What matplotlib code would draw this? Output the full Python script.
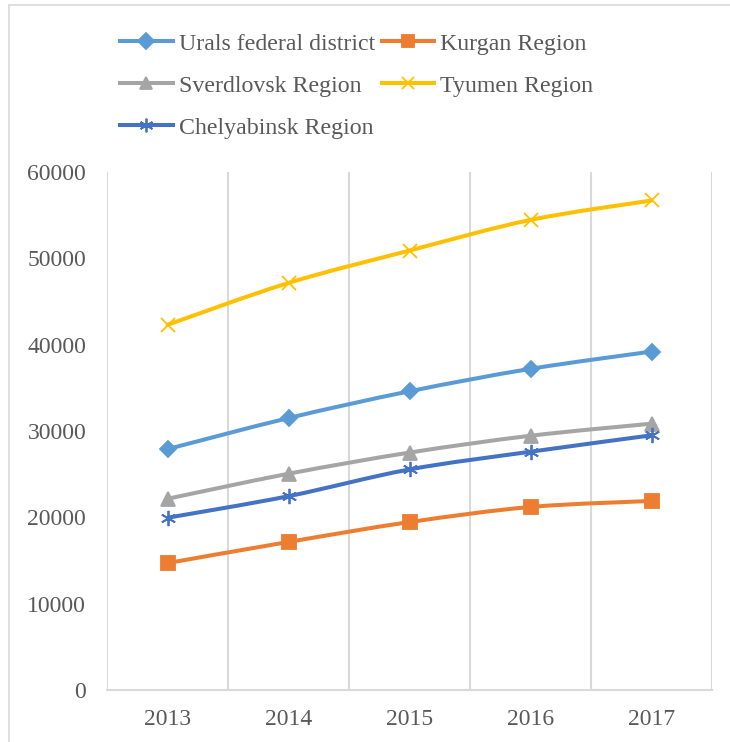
import numpy as np
import matplotlib.pyplot as plt
from matplotlib.path import Path
from matplotlib.patches import PathPatch, Rectangle
from matplotlib.lines import Line2D

years = ["2013", "2014", "2015", "2016", "2017"]
urals = [27900, 31500, 34600, 37200, 39200]
kurgan = [14700, 17150, 19450, 21200, 21900]
sverdlovsk = [22150, 25050, 27500, 29450, 30850]
tyumen = [42300, 47150, 50900, 54450, 56700]
chelyabinsk = [19950, 22450, 25550, 27600, 29500]

plt.rcParams['font.family'] = ['Liberation Serif', 'DejaVu Serif']

fig = plt.figure(figsize=(7.3, 7.42), dpi=100)
ax = fig.add_axes([107/730, 1-690/742, (712-107)/730, (690-172)/742])

# outer chart border
fig.patches.append(Rectangle((9/730, -0.1), 1.2, 1.1 - 5/742, transform=fig.transFigure,
                             fill=False, edgecolor="#d9d9d9", linewidth=1.2))


def smooth_path(x, y):
    # Excel-style smoothed line (Catmull-Rom as cubic Bezier)
    pts = np.column_stack([x, y]).astype(float)
    verts = [pts[0]]
    codes = [Path.MOVETO]
    n = len(pts)
    for i in range(n - 1):
        p0 = pts[i - 1] if i > 0 else pts[i]
        p1 = pts[i]
        p2 = pts[i + 1]
        p3 = pts[i + 2] if i + 2 < n else pts[i + 1]
        c1 = p1 + (p2 - p0) / 6
        c2 = p2 - (p3 - p1) / 6
        verts += [c1, c2, p2]
        codes += [Path.CURVE4] * 3
    return Path(verts, codes)


series = [
    ("Urals federal district", urals, "#5B9BD5", "D", 8.5),
    ("Kurgan Region", kurgan, "#ED7D31", "s", 9.5),
    ("Sverdlovsk Region", sverdlovsk, "#A5A5A5", "^", 10),
    ("Tyumen Region", tyumen, "#FFC000", "x", 10),
    ("Chelyabinsk Region", chelyabinsk, "#4472C4", (6, 2, 0), 11),
]

lw = 2.9
x = np.arange(len(years))
handles = {}
for name, vals, col, mk, ms in series:
    ax.add_patch(PathPatch(smooth_path(x, vals), facecolor="none", edgecolor=col,
                           linewidth=lw, capstyle="round", zorder=3))
    ax.plot(x, vals, linestyle="none", marker=mk, markersize=ms, color=col,
            markeredgewidth=1.3, zorder=4)
    handles[name] = Line2D([], [], color=col, linewidth=lw, marker=mk,
                           markersize=ms * 0.9, markeredgewidth=1.3)

ax.set_xlim(-0.5, len(years) - 0.5)
ax.set_ylim(0, 60000)
ax.set_yticks(np.arange(0, 60001, 10000))
ax.set_xticks(x)
ax.set_xticklabels(years)
ax.set_xticks(np.arange(-0.5, len(years), 1), minor=True)
ax.grid(True, which="minor", axis="x", color="#d9d9d9", linewidth=1.5)
ax.tick_params(axis="both", which="both", length=0, labelsize=17, labelcolor="#595959")
ax.tick_params(axis="x", pad=14)
ax.tick_params(axis="y", pad=15)
for s in ["top", "right", "left"]:
    ax.spines[s].set_visible(False)
ax.spines["bottom"].set_color("#d9d9d9")
ax.spines["bottom"].set_linewidth(1.5)

order = ["Urals federal district", "Sverdlovsk Region", "Chelyabinsk Region",
         "Kurgan Region", "Tyumen Region"]
leg = fig.legend([handles[k] for k in order], order, ncol=2, loc="upper left",
                 bbox_to_anchor=(120/730, 1-33/742), frameon=False, fontsize=17.2,
                 handlelength=2.2, handletextpad=0.25, columnspacing=0.3,
                 labelspacing=0.85, borderaxespad=0, borderpad=0)
for t in leg.get_texts():
    t.set_color("#595959")

fig.savefig("out.png", dpi=100)
